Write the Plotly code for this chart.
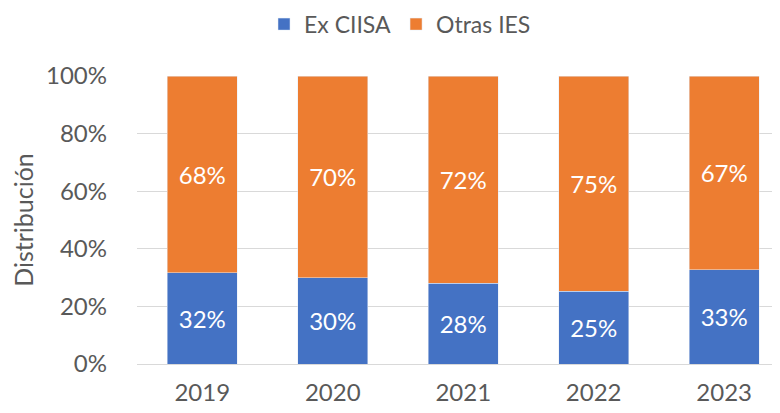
import plotly.graph_objects as go

years = ["2019", "2020", "2021", "2022", "2023"]
ex_ciisa = [31.7, 29.9, 28.0, 25.2, 32.7]
otras_ies = [68.3, 70.1, 72.0, 74.8, 67.3]
ex_labels = ["32%", "30%", "28%", "25%", "33%"]
otras_labels = ["68%", "70%", "72%", "75%", "67%"]
y_ticks = [0, 20, 40, 60, 80, 100]
y_tick_labels = ["0%", "20%", "40%", "60%", "80%", "100%"]

FONT = "Lato, 'Noto Sans', sans-serif"
GREY = "#595959"

fig = go.Figure()
fig.add_trace(go.Bar(
    x=years, y=ex_ciisa, name="Ex CIISA", marker_color="#4472C4",
    text=ex_labels, textposition="inside", insidetextanchor="middle",
    textfont=dict(color="white", size=24, family=FONT), hoverinfo="skip",
))
fig.add_trace(go.Bar(
    x=years, y=otras_ies, name="Otras IES", marker_color="#ED7D31",
    text=otras_labels, textposition="inside", insidetextanchor="middle",
    textfont=dict(color="white", size=24, family=FONT), hoverinfo="skip",
))

fig.update_layout(
    barmode="stack",
    bargap=0.465,
    width=780, height=413,
    margin=dict(l=129, r=0, t=68, b=57, autoexpand=False),
    paper_bgcolor="white", plot_bgcolor="white",
    font=dict(family=FONT, color=GREY, size=24),
    legend=dict(orientation="h", x=0.404, xanchor="center", y=1.18,
                yanchor="middle", font=dict(size=23, color=GREY, family=FONT),
                traceorder="normal"),
    showlegend=True,
)
fig.update_xaxes(
    range=[-0.5, 4.489], showgrid=False, showline=False, zeroline=False,
    tickfont=dict(size=24, color=GREY), ticks="", ticklabelstandoff=12,
    automargin=False,
)
fig.update_yaxes(
    range=[0, 100], tickvals=y_ticks, ticktext=y_tick_labels,
    showgrid=True, gridcolor="#D9D9D9", gridwidth=1, zeroline=True,
    zerolinecolor="#D9D9D9", zerolinewidth=1, showline=False,
    tickfont=dict(size=24, color=GREY), ticks="", ticklabelstandoff=29,
    title=dict(text="Distribución", font=dict(size=25, color=GREY), standoff=12),
    automargin=False,
)
fig.write_html("out.html")
